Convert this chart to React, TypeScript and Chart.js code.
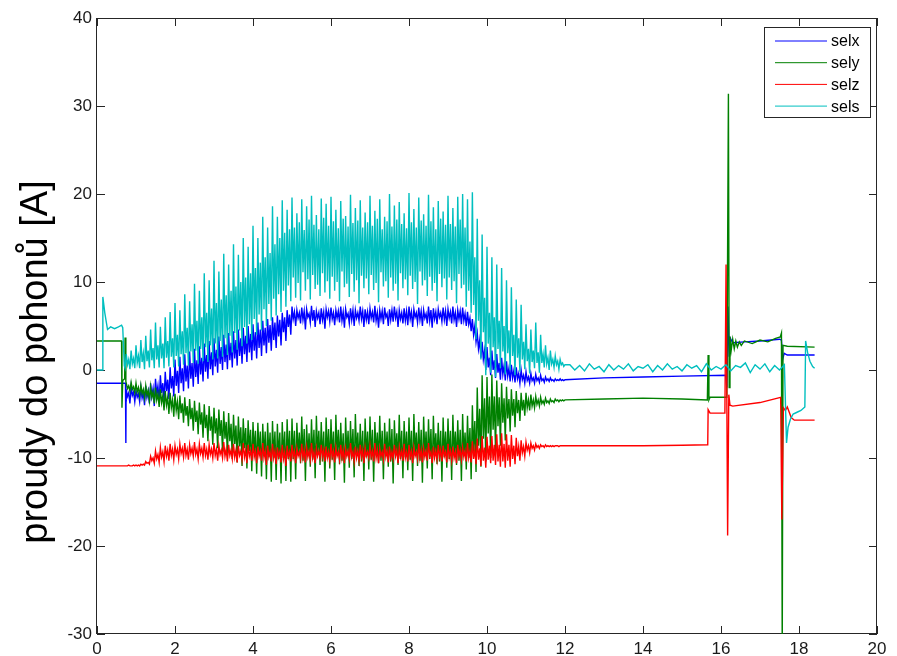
import { useEffect, useRef } from 'react';
import { Chart, registerables } from 'chart.js';

Chart.register(...registerables);

const FONT = '"Liberation Sans", Arial, Helvetica, sans-serif';

const xTicks = [0, 2, 4, 6, 8, 10, 12, 14, 16, 18, 20];
const yTicks = [-30, -20, -10, 0, 10, 20, 30, 40];
const seriesNames = ['selx', 'sely', 'selz', 'sels'];
const seriesColors = ['#0000ff', '#008000', '#ff0000', '#00bfbf'];
const yAxisTitle = 'proudy do pohonů [A]';

// oscillating section: sample times oscStart + i * oscStep (0.75 s .. 12.0 s)
// each 0.125 s cycle is read as: peak, lower core, upper core, trough
const oscStart = 0.75;
const oscStep = 0.03125;

const selxOsc = [
  -2.2, -3.0, -2.6, -3.8, -1.9, -2.9, -2.5, -3.6,
  -2.3, -3.1, -2.7, -3.6, -2.0, -3.2, -2.6, -4.0, -1.8, -3.1, -2.4, -3.8, -1.5, -3.0, -2.1, -4.1,
  -1.0, -2.8, -1.8, -3.7, -0.6, -2.6, -1.5, -3.5, -0.2, -2.4, -1.1, -3.3, 0.3, -2.1, -0.7, -3.0,
  1.2, -1.8, -0.1, -2.6, 1.5, -1.5, 0.2, -2.4, 1.8, -1.3, 0.5, -2.1, 2.1, -1.0, 0.8, -1.9,
  2.4, -0.8, 1.1, -1.6, 2.7, -0.5, 1.4, -1.3, 3.0, -0.2, 1.7, -1.0, 3.3, 0.1, 2.0, -0.6,
  3.6, 0.4, 2.3, -0.3, 3.8, 0.7, 2.6, 0.0, 4.0, 0.9, 2.9, 0.1, 4.2, 1.1, 3.1, 0.3,
  4.4, 1.3, 3.4, 0.5, 4.6, 1.6, 3.6, 0.7, 4.8, 1.8, 3.9, 0.9, 5.0, 2.0, 4.1, 1.1,
  5.2, 2.2, 4.3, 1.3, 5.4, 2.5, 4.6, 1.6, 5.6, 2.8, 4.8, 1.9, 5.8, 3.1, 5.1, 2.2,
  6.0, 3.4, 5.4, 2.5, 6.2, 3.8, 5.7, 2.8, 6.5, 4.3, 6.0, 3.3, 6.8, 4.9, 6.3, 4.0,
  7.2, 5.8, 6.6, 5.0, 6.8, 5.9, 6.5, 5.3, 7.1, 5.7, 6.7, 4.6, 6.9, 6.0, 6.4, 5.4,
  7.3, 5.6, 6.8, 4.9, 6.7, 5.9, 6.5, 5.2, 7.0, 5.7, 6.6, 4.7, 6.9, 6.0, 6.7, 5.5,
  7.1, 5.8, 6.5, 5.1, 6.8, 5.9, 6.7, 5.4, 7.2, 5.6, 6.6, 4.8, 6.9, 6.0, 6.4, 5.3,
  7.0, 5.7, 6.8, 5.0, 6.8, 5.9, 6.5, 5.6, 7.2, 5.8, 6.7, 4.9, 6.9, 5.7, 6.6, 5.2,
  7.0, 5.9, 6.6, 5.4, 7.3, 5.6, 6.5, 4.8, 6.8, 5.8, 6.7, 5.2, 7.1, 6.0, 6.4, 5.0,
  6.9, 5.7, 6.8, 5.5, 7.2, 5.9, 6.6, 4.9, 6.8, 5.8, 6.5, 5.3, 7.0, 5.6, 6.7, 5.1,
  7.2, 5.8, 6.6, 4.9, 6.9, 6.0, 6.5, 5.4, 7.1, 5.7, 6.7, 5.0, 6.8, 5.9, 6.4, 5.3,
  7.2, 5.6, 6.8, 4.8, 7.0, 5.8, 6.6, 5.2, 6.9, 6.0, 6.5, 5.5, 7.1, 5.7, 6.7, 5.0,
  6.9, 5.9, 6.6, 5.3, 7.2, 5.7, 6.5, 4.9, 6.8, 5.8, 6.7, 5.2, 7.1, 5.6, 6.4, 5.0,
  6.6, 5.2, 5.9, 4.4, 5.8, 4.0, 5.0, 3.2, 4.2, 2.4, 3.4, 1.4, 3.2, 1.2, 2.2, 0.0,
  2.6, 0.3, 1.4, -0.6, 2.2, 0.0, 1.1, -0.9, 1.8, -0.3, 0.8, -1.1, 1.4, -0.5, 0.5, -1.2,
  1.0, -0.7, 0.2, -1.3, 0.6, -0.9, -0.1, -1.4, 0.3, -1.0, -0.4, -1.5, 0.0, -1.1, -0.6, -1.5,
  -0.2, -1.2, -0.8, -1.5, -0.4, -1.2, -0.9, -1.5, -0.5, -1.2, -0.9, -1.4, -0.6, -1.2, -1.0, -1.4,
  -0.8, -1.2, -1.0, -1.3, -0.9, -1.2, -1.1, -1.3, -1.0, -1.2, -1.1, -1.2, -1.0, -1.2, -1.1, -1.2,
  -1.1,
];

const selyOsc = [
  -1.5, -2.1, -1.8, -2.4, -1.4, -2.2, -1.9, -2.6,
  -1.5, -2.5, -2.0, -2.9, -1.7, -2.7, -2.2, -3.2, -1.8, -2.9, -2.3, -3.5, -1.9, -3.1, -2.5, -3.8,
  -2.0, -3.4, -2.7, -4.2, -2.2, -3.7, -2.9, -4.6, -2.4, -4.0, -3.1, -5.0, -2.6, -4.3, -3.4, -5.3,
  -2.7, -4.6, -3.6, -5.6, -2.9, -4.9, -3.8, -6.0, -3.1, -5.2, -4.1, -6.4, -3.3, -5.6, -4.3, -6.9,
  -3.5, -5.9, -4.6, -7.3, -3.7, -6.2, -4.8, -7.7, -3.9, -6.6, -5.1, -8.1, -4.1, -6.9, -5.3, -8.5,
  -4.3, -7.2, -5.5, -8.9, -4.5, -7.5, -5.7, -9.3, -4.7, -7.8, -5.9, -9.7, -4.9, -8.1, -6.1, -10.1,
  -5.1, -8.4, -6.3, -10.5, -5.3, -8.7, -6.5, -10.9, -5.5, -8.9, -6.6, -11.2, -5.7, -9.2, -6.8, -11.5,
  -5.9, -9.4, -6.9, -11.8, -6.0, -9.6, -7.0, -12.1, -6.1, -9.8, -7.0, -12.4, -6.0, -9.9, -7.1, -12.7,
  -5.8, -10.0, -7.0, -12.5, -6.1, -10.1, -7.1, -12.9, -5.9, -10.0, -7.0, -12.6, -5.6, -10.1, -6.9, -12.7,
  -5.5, -10.1, -6.9, -12.4, -6.0, -9.7, -7.1, -10.6, -5.3, -10.3, -6.7, -12.6, -6.2, -9.8, -7.2, -11.0,
  -5.6, -10.2, -6.8, -12.3, -5.2, -9.6, -6.9, -10.8, -5.9, -10.4, -7.0, -12.7, -5.4, -9.9, -6.7, -11.2,
  -5.6, -10.2, -7.0, -12.5, -5.1, -9.7, -6.8, -10.7, -6.0, -10.3, -7.2, -12.8, -5.4, -9.8, -6.9, -11.1,
  -5.8, -10.1, -6.7, -12.2, -5.0, -9.6, -7.1, -10.9, -6.1, -10.4, -6.9, -12.6, -5.5, -9.9, -7.0, -11.3,
  -5.3, -10.2, -6.8, -12.7, -5.9, -9.7, -7.1, -10.6, -5.2, -10.3, -6.9, -12.4, -6.0, -9.8, -7.0, -11.0,
  -5.5, -10.4, -6.7, -12.9, -5.7, -9.6, -7.2, -10.8, -5.1, -10.1, -6.9, -12.3, -5.8, -9.9, -7.0, -11.4,
  -5.4, -10.2, -6.9, -12.6, -5.0, -9.7, -7.1, -10.9, -5.9, -10.3, -6.8, -12.8, -5.3, -9.8, -7.0, -11.2,
  -5.6, -10.1, -6.7, -12.4, -5.2, -9.6, -7.2, -10.7, -6.0, -10.4, -6.9, -12.7, -5.4, -9.9, -7.0, -11.1,
  -5.5, -10.1, -6.9, -12.5, -5.1, -9.7, -7.0, -10.8, -5.7, -10.3, -6.8, -12.6, -5.0, -9.8, -7.1, -11.3,
  -5.2, -10.0, -6.6, -12.4, -4.0, -9.4, -5.8, -11.6, -2.0, -8.6, -4.4, -11.0, -0.6, -7.8, -3.2, -10.4,
  -0.8, -7.2, -3.0, -10.0, -0.5, -6.8, -3.0, -9.2, -1.2, -6.4, -3.1, -8.6, -1.5, -6.0, -3.2, -8.0,
  -1.9, -5.5, -3.3, -7.0, -2.2, -5.2, -3.3, -6.5, -2.4, -4.9, -3.4, -5.8, -2.6, -4.6, -3.4, -5.2,
  -2.6, -4.3, -3.4, -4.6, -2.8, -4.1, -3.4, -4.3, -3.0, -3.9, -3.4, -4.1, -3.1, -3.8, -3.5, -3.9,
  -3.2, -3.7, -3.5, -3.8, -3.3, -3.6, -3.5, -3.7, -3.3, -3.5, -3.4, -3.6, -3.4, -3.5, -3.4, -3.5,
  -3.4,
];

const selzOsc = [
  -10.9, -10.9, -10.8, -10.9, -10.9, -10.9, -10.8, -10.9,
  -10.8, -10.9, -10.8, -10.9, -10.7, -10.8, -10.7, -10.8, -10.4, -10.6, -10.5, -10.7, -9.8, -10.3, -10.0, -10.6,
  -9.2, -10.1, -9.6, -10.5, -8.8, -9.9, -9.3, -10.4, -8.6, -9.8, -9.1, -10.3, -8.4, -9.7, -9.0, -10.2,
  -8.6, -9.6, -9.0, -10.1, -8.4, -9.5, -8.9, -9.9, -8.3, -9.7, -9.0, -10.2, -8.5, -9.5, -8.9, -9.8,
  -8.2, -9.6, -9.0, -10.1, -8.4, -9.5, -8.9, -9.9, -8.3, -9.7, -9.0, -10.2, -8.5, -9.6, -9.0, -10.0,
  -8.3, -9.7, -9.0, -10.3, -8.6, -9.6, -9.1, -10.0, -8.2, -9.8, -9.0, -10.4, -8.5, -9.7, -9.1, -10.1,
  -8.4, -9.9, -9.1, -10.5, -8.6, -9.7, -9.2, -10.2, -8.3, -9.9, -9.1, -10.6, -8.5, -9.8, -9.2, -10.3,
  -8.4, -9.9, -9.2, -10.6, -8.7, -9.8, -9.2, -10.3, -8.3, -10.0, -9.2, -10.8, -8.6, -9.9, -9.3, -10.4,
  -8.4, -10.0, -9.2, -10.7, -8.8, -9.9, -9.3, -10.5, -8.5, -10.1, -9.3, -10.9, -8.6, -9.9, -9.3, -10.4,
  -8.5, -9.9, -9.2, -10.6, -8.9, -9.8, -9.3, -10.1, -8.4, -10.0, -9.1, -10.5, -8.8, -9.9, -9.2, -10.2,
  -8.3, -10.0, -9.3, -10.6, -8.9, -9.8, -9.2, -10.0, -8.5, -9.9, -9.1, -10.4, -8.7, -10.0, -9.3, -10.3,
  -8.4, -9.9, -9.2, -10.5, -8.8, -9.8, -9.3, -10.2, -8.5, -10.0, -9.1, -10.6, -8.9, -9.8, -9.2, -10.1,
  -8.3, -9.9, -9.3, -10.4, -8.7, -10.0, -9.2, -10.3, -8.5, -9.9, -9.1, -10.6, -8.8, -9.8, -9.3, -10.0,
  -8.6, -9.9, -9.2, -10.4, -8.3, -10.0, -9.1, -10.6, -8.9, -9.8, -9.3, -10.2, -8.4, -9.9, -9.2, -10.5,
  -8.7, -10.0, -9.3, -10.1, -8.5, -9.8, -9.1, -10.6, -8.8, -9.9, -9.2, -10.3, -8.4, -10.0, -9.3, -10.4,
  -8.5, -9.9, -9.2, -10.6, -8.8, -9.8, -9.3, -10.1, -8.4, -10.0, -9.1, -10.5, -8.9, -9.9, -9.2, -10.3,
  -8.3, -9.8, -9.3, -10.6, -8.7, -10.0, -9.2, -10.2, -8.5, -9.9, -9.1, -10.4, -8.6, -9.8, -9.3, -10.5,
  -8.4, -9.9, -9.2, -10.3, -8.7, -10.0, -9.3, -10.6, -8.5, -9.8, -9.1, -10.2, -8.8, -9.9, -9.2, -10.4,
  -8.3, -10.0, -9.2, -10.5, -8.1, -10.1, -9.0, -10.7, -7.8, -10.2, -8.9, -10.9, -7.5, -10.3, -8.8, -11.1,
  -7.6, -10.2, -8.6, -10.6, -7.5, -10.3, -8.5, -10.8, -7.3, -10.4, -8.5, -11.0, -7.2, -10.4, -8.4, -11.1,
  -7.3, -10.3, -8.5, -11.0, -7.4, -10.1, -8.6, -10.7, -7.7, -9.8, -8.7, -10.3, -8.0, -9.4, -8.7, -9.8,
  -8.2, -9.1, -8.6, -9.4, -8.3, -8.9, -8.6, -9.1, -8.4, -8.8, -8.6, -8.9, -8.5, -8.7, -8.6, -8.8,
  -8.5, -8.7, -8.6, -8.7, -8.6, -8.7, -8.6, -8.7, -8.6, -8.6, -8.6, -8.7, -8.6, -8.6, -8.6, -8.6,
  -8.6,
];

const selsOsc = [
  1.8, 0.6, 1.2, 0.1, 2.2, 0.7, 1.3, 0.2,
  2.8, 0.8, 1.6, 0.2, 3.4, 0.9, 1.9, 0.1, 3.9, 1.0, 2.2, 0.3, 4.6, 1.1, 2.5, 0.2,
  5.4, 1.2, 2.8, 0.3, 4.9, 1.3, 3.0, 0.2, 6.0, 1.4, 3.3, 0.4, 6.6, 1.5, 3.6, 0.3,
  7.6, 1.6, 4.0, 0.4, 6.8, 1.8, 4.4, 0.6, 8.6, 1.9, 4.8, 0.5, 7.8, 2.1, 5.2, 0.8,
  9.8, 2.2, 5.6, 0.7, 9.0, 2.4, 6.0, 1.0, 11.0, 2.6, 6.5, 0.9, 10.2, 2.8, 7.0, 1.2,
  12.4, 3.0, 7.6, 1.3, 11.2, 3.3, 8.0, 1.5, 13.2, 3.6, 8.5, 1.7, 12.0, 3.9, 9.0, 2.0,
  14.3, 4.2, 9.5, 2.3, 13.1, 4.5, 10.0, 2.7, 15.0, 4.9, 10.5, 3.0, 14.0, 5.2, 11.0, 3.4,
  16.4, 5.8, 11.6, 4.0, 15.0, 6.3, 12.2, 4.5, 17.4, 6.9, 12.8, 5.0, 16.2, 7.5, 13.3, 5.6,
  18.6, 8.1, 14.3, 6.2, 17.4, 8.6, 15.0, 6.6, 19.3, 9.0, 15.6, 7.2, 18.2, 9.6, 16.0, 7.8,
  19.6, 10.5, 16.2, 8.2, 17.8, 9.9, 16.8, 7.9, 19.4, 11.1, 15.9, 9.0, 18.6, 10.3, 17.1, 8.0,
  19.8, 10.8, 16.5, 9.2, 17.6, 9.7, 16.0, 8.4, 19.5, 11.0, 17.3, 8.8, 18.9, 10.1, 16.4, 8.1,
  19.7, 10.6, 16.9, 9.0, 18.2, 10.0, 16.1, 7.8, 19.2, 11.2, 17.2, 9.4, 17.5, 9.8, 16.3, 8.3,
  19.9, 10.9, 16.7, 8.9, 18.4, 10.2, 17.0, 7.6, 19.3, 10.7, 16.2, 9.3, 17.9, 10.4, 16.8, 8.6,
  19.8, 10.8, 16.4, 9.1, 18.1, 9.9, 17.2, 7.7, 19.4, 11.1, 16.0, 9.5, 17.4, 10.1, 16.9, 8.2,
  20.0, 10.5, 16.3, 9.0, 18.7, 9.8, 17.1, 7.9, 19.1, 11.0, 16.6, 9.3, 17.8, 10.3, 16.1, 8.5,
  20.1, 10.7, 16.8, 9.2, 18.3, 10.0, 16.2, 7.5, 19.6, 11.2, 17.0, 9.6, 17.7, 10.2, 16.4, 8.4,
  19.9, 10.6, 16.9, 9.0, 18.5, 9.9, 16.0, 7.8, 19.2, 10.9, 17.2, 9.4, 18.0, 10.4, 16.5, 8.0,
  19.8, 10.5, 16.6, 9.1, 18.4, 10.1, 16.3, 7.6, 19.7, 10.9, 17.1, 9.3, 20.0, 9.7, 16.2, 7.2,
  19.4, 9.0, 14.6, 6.5, 20.2, 7.4, 12.8, 3.5, 17.2, 5.6, 10.2, 1.2, 15.4, 4.3, 8.2, -0.6,
  14.0, 3.0, 6.5, -0.3, 12.8, 2.6, 6.0, -0.8, 12.0, 2.4, 5.6, 0.2, 11.6, 2.1, 5.0, -0.5,
  10.2, 1.9, 4.5, 0.0, 9.4, 1.6, 4.0, -0.6, 8.0, 1.4, 3.6, -0.2, 7.4, 1.2, 3.2, 0.1,
  5.2, 1.0, 2.4, -0.4, 4.6, 0.9, 2.2, 0.2, 5.4, 0.8, 2.0, -0.3, 4.0, 0.8, 1.8, 0.3,
  2.8, 0.7, 1.4, 0.0, 2.2, 0.7, 1.2, 0.3, 1.6, 0.6, 1.0, 0.1, 1.2, 0.6, 0.8, 0.4,
  0.6,
];

// quiet noisy section of sels: tailStart + k * tailStep (12.125 s .. 17.625 s)
const tailStart = 12.125;
const tailStep = 0.125;
const selsTail = [
  0.6, 0.0, 0.5, -0.1, 0.7, 0.1, 0.4, -0.2, 0.6, 0.0, 0.5, 0.1, 0.7, -0.1, 0.4, 0.2,
  0.6, -0.2, 0.5, 0.0, 0.7, 0.1, 0.4, -0.1, 0.6, 0.2, 0.5, -0.2, 0.7, 0.0, 0.4, 0.1,
  0.6, -0.1, 0.5, 0.3, 0.8, -0.3, 0.6, 0.1, 0.7, -0.2, 0.5, 0.0, 0.6,
];

// [time s, current A]
const selxPre: [number, number][] = [[0, -1.5], [0.73, -1.5], [0.74, -8.3], [0.745, -3.5]];
const selxPost: [number, number][] = [
  [13, -0.9], [14, -0.8], [15, -0.7], [16.12, -0.6], [16.15, -2.0], [16.18, 7.2], [16.21, 1.5],
  [16.24, 3.6], [16.3, 3.1], [16.6, 3.2], [17.0, 3.3], [17.5, 3.5], [17.55, 3.4], [17.58, 1.2],
  [17.62, 1.9], [17.7, 1.7], [18.4, 1.7],
];

const selyPre: [number, number][] = [
  [0, 3.3], [0.63, 3.3], [0.64, -4.3], [0.66, -1.2], [0.71, -1.0], [0.72, 3.7], [0.74, -1.3],
];
const selyPost: [number, number][] = [
  [13, -3.3], [14, -3.2], [15, -3.3], [15.65, -3.4], [15.67, 1.7], [15.69, -3.4], [15.72, -3.1],
  [16.15, -3.1], [16.19, 31.4], [16.21, -2.0], [16.23, 3.8], [16.26, 2.2], [16.3, 3.5], [16.34, 2.4],
  [16.38, 3.3], [16.42, 2.6], [16.47, 3.2], [16.52, 2.8], [16.6, 3.3], [16.8, 3.0], [17.0, 3.4],
  [17.2, 3.2], [17.4, 3.6], [17.52, 3.75], [17.55, 4.2], [17.57, -32], [17.59, 2.8], [17.7, 2.7],
  [18.4, 2.6],
];

const selzPre: [number, number][] = [[0, -10.9], [0.7, -10.9]];
const selzPost: [number, number][] = [
  [13, -8.6], [14, -8.6], [15, -8.55], [15.66, -8.5], [15.67, -4.5], [15.72, -4.9], [16.1, -4.9],
  [16.13, 12.0], [16.17, -18.8], [16.2, -2.8], [16.23, -4.0], [16.3, -4.1], [17.0, -3.7],
  [17.53, -3.1], [17.56, -17.0], [17.6, -4.3], [17.65, -4.6], [17.7, -4.2], [17.8, -5.4],
  [17.88, -5.7], [18.4, -5.7],
];

const selsPre: [number, number][] = [
  [0, 0], [0.14, 0], [0.15, 8.3], [0.2, 6.5], [0.27, 4.6], [0.35, 4.9], [0.45, 4.7], [0.55, 4.9],
  [0.63, 5.1], [0.66, 4.8], [0.7, 0.5], [0.72, 0.2],
];
const selsPost: [number, number][] = [
  [17.68, -8.3], [17.72, -6.5], [17.78, -5.6], [17.85, -5.0], [17.95, -4.8], [18.05, -4.6],
  [18.15, -4.2], [18.17, 3.3], [18.22, 2.0], [18.28, 1.0], [18.35, 0.4], [18.4, 0.2],
];

type P = { x: number; y: number };
const pts = (arr: [number, number][]): P[] => arr.map(([x, y]) => ({ x, y }));
const grid = (vals: number[], t0: number, dt: number): P[] => vals.map((y, i) => ({ x: t0 + i * dt, y }));

const seriesData: P[][] = [
  [...pts(selxPre), ...grid(selxOsc, oscStart, oscStep), ...pts(selxPost)],
  [...pts(selyPre), ...grid(selyOsc, oscStart, oscStep), ...pts(selyPost)],
  [...pts(selzPre), ...grid(selzOsc, oscStart, oscStep), ...pts(selzPost)],
  [...pts(selsPre), ...grid(selsOsc, oscStart, oscStep), ...grid(selsTail, tailStart, tailStep), ...pts(selsPost)],
];

const framePlugin = {
  id: 'matlabFrame',
  beforeDatasetsDraw(chart: any) {
    const { ctx, chartArea: a, scales } = chart;
    ctx.save();
    ctx.strokeStyle = '#262626';
    ctx.lineWidth = 1;
    ctx.strokeRect(Math.round(a.left) - 0.5, Math.round(a.top) + 0.5, Math.round(a.right - a.left), Math.round(a.bottom - a.top) - 1);
    ctx.beginPath();
    for (const v of xTicks) {
      const px = Math.round(scales.x.getPixelForValue(v)) + 0.5;
      ctx.moveTo(px, a.bottom);
      ctx.lineTo(px, a.bottom - 8);
      ctx.moveTo(px, a.top);
      ctx.lineTo(px, a.top + 8);
    }
    for (const v of yTicks) {
      const py = Math.round(scales.y.getPixelForValue(v)) + 0.5;
      ctx.moveTo(a.left, py);
      ctx.lineTo(a.left + 8, py);
      ctx.moveTo(a.right, py);
      ctx.lineTo(a.right - 8, py);
    }
    ctx.stroke();
    // y axis title
    ctx.translate(47, 362);
    ctx.rotate(-Math.PI / 2);
    ctx.font = `38px ${FONT}`;
    ctx.fillStyle = '#000';
    ctx.textAlign = 'center';
    ctx.textBaseline = 'alphabetic';
    ctx.fillText(yAxisTitle, 0, 0);
    ctx.restore();
  },
};

const legendPlugin = {
  id: 'matlabLegend',
  afterDatasetsDraw(chart: any) {
    const { ctx, chartArea: a } = chart;
    const right = a.right - 7;
    const left = right - 106;
    const top = a.top + 9;
    const h = 90;
    ctx.save();
    ctx.fillStyle = '#fff';
    ctx.fillRect(left, top, right - left, h);
    ctx.strokeStyle = '#262626';
    ctx.lineWidth = 1;
    ctx.strokeRect(left + 0.5, top + 0.5, right - left, h);
    ctx.font = `16px ${FONT}`;
    ctx.textBaseline = 'middle';
    ctx.textAlign = 'left';
    seriesNames.forEach((name, i) => {
      const y = top + 14 + i * 21.7;
      ctx.strokeStyle = seriesColors[i];
      ctx.beginPath();
      ctx.moveTo(left + 11, y);
      ctx.lineTo(left + 63, y);
      ctx.stroke();
      ctx.fillStyle = '#000';
      ctx.fillText(name, left + 67, y + 1);
    });
    ctx.restore();
  },
};

export default function App() {
  const ref = useRef<HTMLCanvasElement | null>(null);
  useEffect(() => {
    if (!ref.current) return;
    const chart = new Chart(ref.current, {
      type: 'line',
      data: {
        datasets: seriesData.map((d, i) => ({
          label: seriesNames[i],
          data: d,
          borderColor: seriesColors[i],
          backgroundColor: seriesColors[i],
          borderWidth: 1.4,
          pointRadius: 0,
          tension: 0,
          fill: false,
          order: 4 - i,
        })),
      },
      options: {
        animation: false,
        responsive: false,
        maintainAspectRatio: false,
        parsing: false,
        normalized: true,
        events: [],
        layout: { padding: { top: 18, right: 20, left: 0, bottom: 0 } },
        plugins: { legend: { display: false }, tooltip: { enabled: false } },
        scales: {
          x: {
            type: 'linear',
            min: 0,
            max: 20,
            grid: { display: false, drawTicks: false },
            border: { display: false },
            afterBuildTicks: (s: any) => {
              s.ticks = xTicks.map((v) => ({ value: v }));
            },
            afterFit: (s: any) => {
              s.height = 22;
            },
            ticks: {
              autoSkip: false,
              maxRotation: 0,
              padding: 5,
              color: '#1a1a1a',
              font: { size: 17, family: FONT },
            },
          },
          y: {
            type: 'linear',
            min: -30,
            max: 40,
            grid: { display: false, drawTicks: false },
            border: { display: false },
            afterBuildTicks: (s: any) => {
              s.ticks = yTicks.map((v) => ({ value: v }));
            },
            afterFit: (s: any) => {
              s.width = 97;
            },
            ticks: {
              padding: 5,
              color: '#1a1a1a',
              font: { size: 17, family: FONT },
            },
          },
        },
      },
      plugins: [framePlugin, legendPlugin],
    });
    return () => chart.destroy();
  }, []);
  return (
    <div style={{ position: 'fixed', left: 0, top: 0, width: 897, height: 656, background: '#fff' }}>
      <canvas ref={ref} width={897} height={656} style={{ display: 'block' }} />
    </div>
  );
}
